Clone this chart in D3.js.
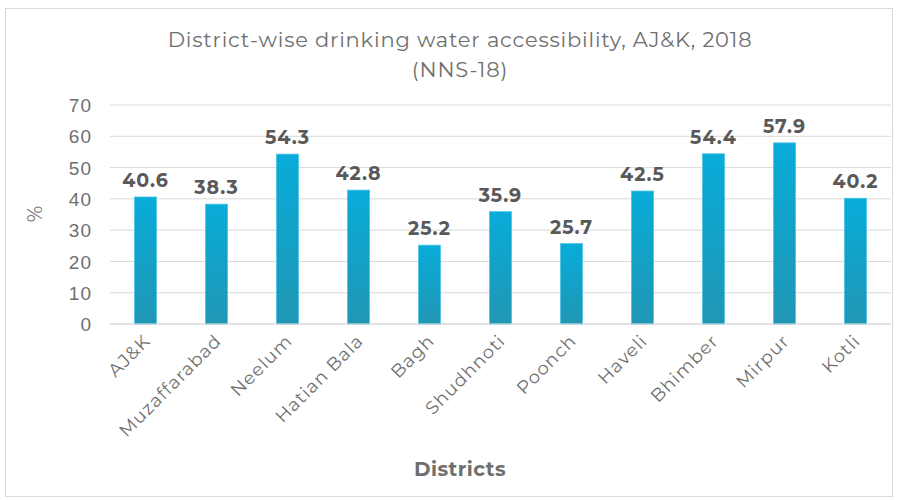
<!DOCTYPE html>
<html>
<head>
<meta charset="utf-8">
<script src="https://cdn.jsdelivr.net/npm/d3@7"></script>
<style>
  body { margin: 0; background: #fff; }
  svg { display: block; font-family: Montserrat, "Open Sans", "DejaVu Sans", sans-serif; }
</style>
</head>
<body>
<svg id="chart" width="898" height="500"></svg>
<script>
const districts = ["AJ&K", "Muzaffarabad", "Neelum", "Hatian Bala", "Bagh", "Shudhnoti", "Poonch", "Haveli", "Bhimber", "Mirpur", "Kotli"];
const access = [40.6, 38.3, 54.3, 42.8, 25.2, 35.9, 25.7, 42.5, 54.4, 57.9, 40.2];
const yTicks = [0, 10, 20, 30, 40, 50, 60, 70];

const svg = d3.select("#chart");
const W = 898, H = 500;
const m = { left: 110, right: 7, top: 105, bottom: 176 };

svg.append("rect")
  .attr("x", 5.5).attr("y", 8.5).attr("width", W - 11).attr("height", H - 12)
  .attr("fill", "#fff").attr("stroke", "#d9d9d9");

const defs = svg.append("defs");
const grad = defs.append("linearGradient").attr("id", "barGrad")
  .attr("x1", 0).attr("y1", 0).attr("x2", 0).attr("y2", 1);
grad.append("stop").attr("offset", "0%").attr("stop-color", "#08acd9");
grad.append("stop").attr("offset", "100%").attr("stop-color", "#2096b4");

const x = d3.scaleBand().domain(districts).range([m.left, W - m.right]).paddingInner(0.69).paddingOuter(0.345);
const y = d3.scaleLinear().domain([0, 70]).range([H - m.bottom, m.top]);

// gridlines
svg.append("g").selectAll("line").data(yTicks).join("line")
  .attr("x1", m.left).attr("x2", W - m.right)
  .attr("y1", d => y(d)).attr("y2", d => y(d))
  .attr("stroke", "#d9d9d9").attr("stroke-width", 1);

// y tick labels
const yAxis = svg.append("g").attr("transform", `translate(${m.left - 18},0)`)
  .call(d3.axisLeft(y).tickValues(yTicks).tickSize(0).tickPadding(0));
yAxis.select(".domain").remove();
yAxis.selectAll("text").attr("font-size", 19).attr("letter-spacing", 1).attr("fill", "#6f6f6f").attr("dy", "0.35em");

// bars
svg.append("g").selectAll("rect").data(districts).join("rect")
  .attr("x", d => x(d)).attr("width", x.bandwidth())
  .attr("y", (d, i) => y(access[i])).attr("height", (d, i) => y(0) - y(access[i]))
  .attr("fill", "url(#barGrad)").attr("stroke", "#4cc3e4").attr("stroke-width", 0.8);

// value labels
svg.append("g").selectAll("text").data(districts).join("text")
  .attr("x", d => x(d) + x.bandwidth() / 2)
  .attr("y", (d, i) => y(access[i]) - 10)
  .attr("text-anchor", "middle").attr("font-size", 19).attr("font-weight", "bold")
  .attr("letter-spacing", 1).attr("fill", "#595959")
  .text((d, i) => access[i]);

// x axis line
svg.append("line").attr("x1", m.left).attr("x2", W - m.right)
  .attr("y1", y(0)).attr("y2", y(0)).attr("stroke", "#d9d9d9");

// category labels
svg.append("g").selectAll("text").data(districts).join("text")
  .attr("transform", d => `translate(${x(d) + x.bandwidth() / 2 + 6},${y(0) + 18}) rotate(-45)`)
  .attr("text-anchor", "end").attr("font-size", 18).attr("letter-spacing", 1).attr("fill", "#6f6f6f")
  .text(d => d);

// title
svg.append("text").attr("x", 460).attr("y", 47).attr("text-anchor", "middle")
  .attr("font-size", 21).attr("letter-spacing", 0.8).attr("fill", "#6f6f6f").text("District-wise drinking water accessibility, AJ&K, 2018");
svg.append("text").attr("x", 460).attr("y", 77).attr("text-anchor", "middle")
  .attr("font-size", 21).attr("letter-spacing", 0.8).attr("fill", "#6f6f6f").text("(NNS-18)");

// axis titles
svg.append("text").attr("x", 460).attr("y", 476).attr("text-anchor", "middle")
  .attr("font-size", 20).attr("font-weight", "bold").attr("letter-spacing", 0.5).attr("fill", "#6f6f6f").text("Districts");
svg.append("text").attr("transform", "translate(42,214) rotate(-90)").attr("text-anchor", "middle")
  .attr("font-size", 20).attr("fill", "#6f6f6f").text("%");
</script>
</body>
</html>
